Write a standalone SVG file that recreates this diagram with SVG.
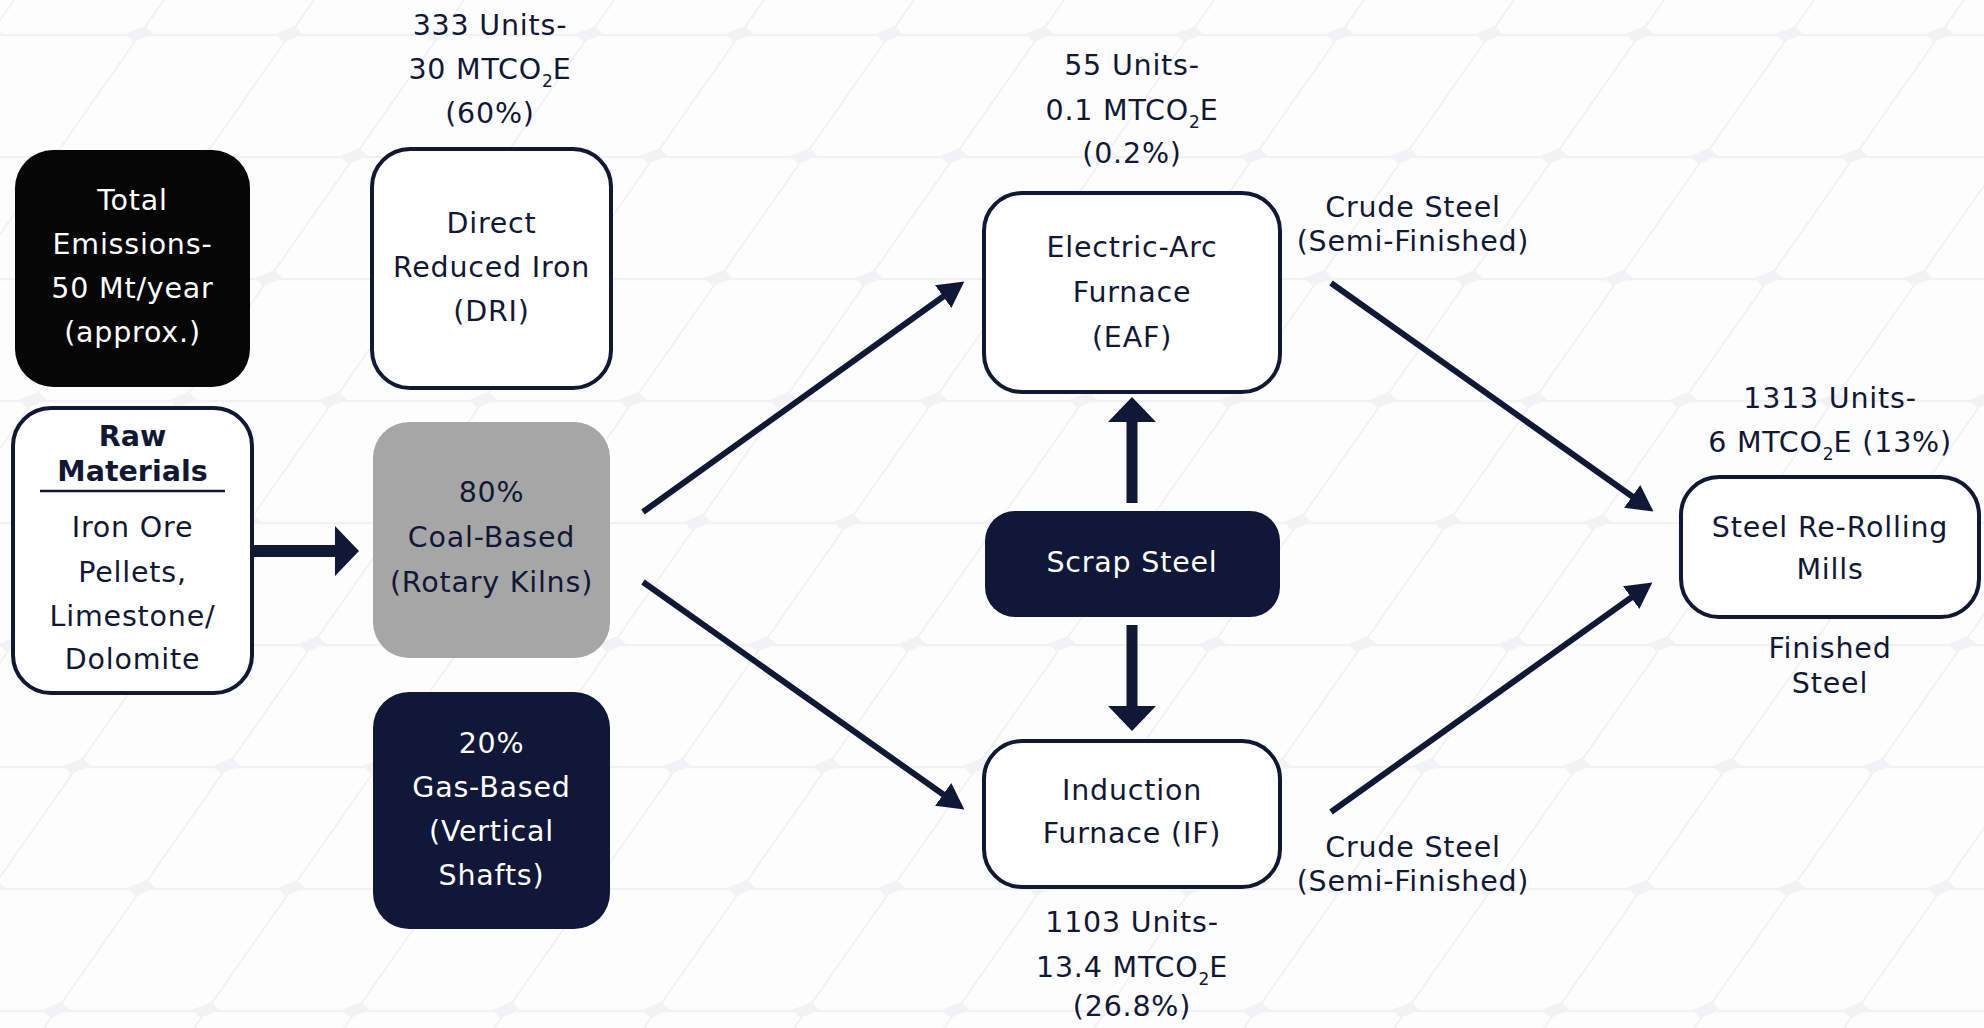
<svg xmlns="http://www.w3.org/2000/svg" width="1984" height="1028" viewBox="0 0 1984 1028">
<defs>
<style>
text { font-family: 'DejaVu Sans', 'Liberation Sans', sans-serif; font-size: 28.5px; text-anchor: middle; fill: #111836; letter-spacing: 0.8px; }
.w { fill: #ffffff; }
.b { font-weight: bold; letter-spacing: 0px; }
.sub { font-size: 17px; letter-spacing: 0px; }
.box { fill: #ffffff; stroke: #111836; stroke-width: 4; }
.conn { stroke: #111836; stroke-width: 6; fill: none; }
.solid { fill: #111836; }
.grid { stroke: #f0f0f3; stroke-width: 2; fill: none; }
.gn { fill: #f2f2f5; }
</style>
<pattern id="hex" patternUnits="userSpaceOnUse" x="13" y="34" width="150" height="122" patternTransform="skewX(-35)">
<path class="grid" d="M0,1 H150 M1,0 V122"/>
<path class="gn" d="M-14,0 L0,-8 L14,0 L0,8 Z M136,0 L150,-8 L164,0 L150,8 Z M-14,122 L0,114 L14,122 L0,130 Z M136,122 L150,114 L164,122 L150,130 Z"/>
</pattern>
<marker id="ah" markerUnits="userSpaceOnUse" markerWidth="27" markerHeight="28" refX="1" refY="14" orient="auto">
<path d="M0,0 L26,14 L0,28 Z" fill="#111836"/>
</marker>
</defs>
<rect width="1984" height="1028" fill="#fdfdfd"/>
<rect width="1984" height="1028" fill="url(#hex)"/>

<g id="connectors">
<line x1="252" y1="551" x2="337" y2="551" stroke="#111836" stroke-width="12"/>
<polygon class="solid" points="335,526 359,551 335,576"/>
<line x1="1132" y1="503" x2="1132" y2="420" stroke="#111836" stroke-width="11"/>
<polygon class="solid" points="1108,422 1132,397 1156,422"/>
<line x1="1132" y1="625" x2="1132" y2="708" stroke="#111836" stroke-width="11"/>
<polygon class="solid" points="1108,706 1132,731 1156,706"/>
<line class="conn" x1="643" y1="512" x2="944" y2="296" marker-end="url(#ah)"/>
<line class="conn" x1="643" y1="582" x2="944" y2="795" marker-end="url(#ah)"/>
<line class="conn" x1="1331" y1="283" x2="1633" y2="497" marker-end="url(#ah)"/>
<line class="conn" x1="1331" y1="812" x2="1632" y2="597" marker-end="url(#ah)"/>
</g>

<g id="total-emissions">
<rect x="15" y="150" width="235" height="237" rx="38" fill="#060606"/>
<text class="w" x="132.5" y="210">Total</text>
<text class="w" x="132.5" y="254">Emissions-</text>
<text class="w" x="132.5" y="298">50 Mt/year</text>
<text class="w" x="132.5" y="342">(approx.)</text>
</g>

<g id="raw-materials">
<rect x="13" y="408" width="239" height="285" rx="38" class="box"/>
<text class="b" x="132.5" y="446">Raw</text>
<text class="b" x="132.5" y="481">Materials</text>
<line x1="40" y1="491" x2="225" y2="491" stroke="#111836" stroke-width="2.5"/>
<text x="132.5" y="537">Iron Ore</text>
<text x="132.5" y="582">Pellets,</text>
<text x="132.5" y="626">Limestone/</text>
<text x="132.5" y="669">Dolomite</text>
</g>

<g id="dri">
<text x="490" y="35">333 Units-</text>
<text x="490" y="79">30 MTCO<tspan class="sub" dy="8">2</tspan><tspan dy="-8">E</tspan></text>
<text x="490" y="123">(60%)</text>
<rect x="372" y="149" width="239" height="239" rx="38" class="box"/>
<text x="491.5" y="233">Direct</text>
<text x="491.5" y="277">Reduced Iron</text>
<text x="491.5" y="321">(DRI)</text>
</g>

<g id="coal-based">
<rect x="373" y="422" width="237" height="236" rx="36" fill="#a6a6a6"/>
<text x="491.5" y="502">80%</text>
<text x="491.5" y="547">Coal-Based</text>
<text x="491.5" y="592">(Rotary Kilns)</text>
</g>

<g id="gas-based">
<rect x="373" y="692" width="237" height="237" rx="36" fill="#111738"/>
<text class="w" x="491.5" y="753">20%</text>
<text class="w" x="491.5" y="797">Gas-Based</text>
<text class="w" x="491.5" y="841">(Vertical</text>
<text class="w" x="491.5" y="885">Shafts)</text>
</g>

<g id="eaf">
<text x="1132" y="75">55 Units-</text>
<text x="1132" y="120">0.1 MTCO<tspan class="sub" dy="8">2</tspan><tspan dy="-8">E</tspan></text>
<text x="1132" y="163">(0.2%)</text>
<rect x="984" y="193" width="296" height="199" rx="38" class="box"/>
<text x="1132" y="257">Electric-Arc</text>
<text x="1132" y="302">Furnace</text>
<text x="1132" y="347">(EAF)</text>
</g>

<g id="crude-steel-top">
<text x="1413" y="217">Crude Steel</text>
<text x="1413" y="251">(Semi-Finished)</text>
</g>

<g id="scrap-steel">
<rect x="985" y="511" width="295" height="106" rx="30" fill="#111738"/>
<text class="w" x="1132" y="572">Scrap Steel</text>
</g>

<g id="induction-furnace">
<rect x="984" y="741" width="296" height="146" rx="38" class="box"/>
<text x="1132" y="800">Induction</text>
<text x="1132" y="843">Furnace (IF)</text>
<text x="1132" y="932">1103 Units-</text>
<text x="1132" y="977">13.4 MTCO<tspan class="sub" dy="8">2</tspan><tspan dy="-8">E</tspan></text>
<text x="1132" y="1016">(26.8%)</text>
</g>

<g id="crude-steel-bottom">
<text x="1413" y="857">Crude Steel</text>
<text x="1413" y="891">(Semi-Finished)</text>
</g>

<g id="re-rolling-mills">
<text x="1830" y="408">1313 Units-</text>
<text x="1830" y="452">6 MTCO<tspan class="sub" dy="8">2</tspan><tspan dy="-8">E (13%)</tspan></text>
<rect x="1681" y="477" width="298" height="140" rx="38" class="box"/>
<text x="1830" y="537">Steel Re-Rolling</text>
<text x="1830" y="579">Mills</text>
<text x="1830" y="658">Finished</text>
<text x="1830" y="693">Steel</text>
</g>
</svg>
